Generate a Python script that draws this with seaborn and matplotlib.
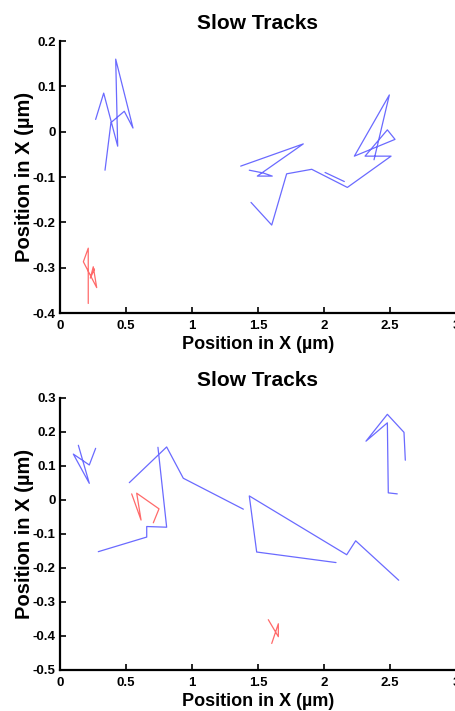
import matplotlib
matplotlib.use("Agg")
import matplotlib.pyplot as plt
import seaborn as sns
import pandas as pd

# ---- data: panel 1 tracks ----
p1_blue_a_x = [0.270, 0.331, 0.437, 0.422, 0.553, 0.487, 0.386, 0.341]
p1_blue_a_y = [0.027, 0.085, -0.032, 0.160, 0.008, 0.045, 0.020, -0.085]
p1_blue_b_x = [1.447, 1.604, 1.717, 1.907, 2.177, 2.508, 2.311, 2.480, 2.538, 2.230, 2.495, 2.379]
p1_blue_b_y = [-0.156, -0.206, -0.093, -0.083, -0.123, -0.054, -0.054, 0.004, -0.017, -0.054, 0.081, -0.062]
p1_blue_c_x = [2.008, 2.154]
p1_blue_c_y = [-0.090, -0.110]
p1_blue_d_x = [1.369, 1.843, 1.495, 1.608, 1.538, 1.434]
p1_blue_d_y = [-0.076, -0.027, -0.098, -0.098, -0.091, -0.085]
p1_red_a_x = [0.214, 0.214, 0.177, 0.278, 0.252, 0.230, 0.261]
p1_red_a_y = [-0.379, -0.257, -0.287, -0.344, -0.298, -0.323, -0.303]

# ---- data: panel 2 tracks ----
p2_blue_a_x = [0.270, 0.222, 0.101, 0.222, 0.139]
p2_blue_a_y = [0.152, 0.103, 0.135, 0.049, 0.161]
p2_blue_b_x = [0.290, 0.657, 0.657, 0.808, 0.742]
p2_blue_b_y = [-0.152, -0.109, -0.078, -0.080, 0.155]
p2_blue_c_x = [0.525, 0.808, 0.934, 1.389]
p2_blue_c_y = [0.051, 0.156, 0.064, -0.027]
p2_blue_d_x = [2.091, 1.490, 1.434, 2.172, 2.240, 2.566]
p2_blue_d_y = [-0.184, -0.153, 0.012, -0.161, -0.120, -0.236]
p2_blue_e_x = [2.616, 2.606, 2.480, 2.318, 2.480, 2.487, 2.555]
p2_blue_e_y = [0.117, 0.199, 0.252, 0.173, 0.227, 0.021, 0.018]
p2_red_a_x = [0.543, 0.614, 0.581, 0.750, 0.707]
p2_red_a_y = [0.018, -0.059, 0.020, -0.026, -0.067]
p2_red_b_x = [1.578, 1.654, 1.654, 1.604]
p2_red_b_y = [-0.352, -0.402, -0.364, -0.422]

x_ticks = [0, 0.5, 1, 1.5, 2, 2.5, 3]
x_tick_labels = ["0", "0.5", "1", "1.5", "2", "2.5", "3"]
p1_y_ticks = [-0.4, -0.3, -0.2, -0.1, 0, 0.1, 0.2]
p1_y_tick_labels = ["-0.4", "-0.3", "-0.2", "-0.1", "0", "0.1", "0.2"]
p2_y_ticks = [-0.5, -0.4, -0.3, -0.2, -0.1, 0, 0.1, 0.2, 0.3]
p2_y_tick_labels = ["-0.5", "-0.4", "-0.3", "-0.2", "-0.1", "0", "0.1", "0.2", "0.3"]

title_text = "Slow Tracks"
x_label = "Position in X (\u00b5m)"
y_label = "Position in X (\u00b5m)"

BLUE = "#6a6aff"
RED = "#ff6a6a"

sns.set_theme(style="white")
plt.rcParams['font.family'] = ['Liberation Sans', 'DejaVu Sans']
plt.rcParams['text.color'] = 'black'
plt.rcParams['axes.labelcolor'] = 'black'
plt.rcParams['xtick.color'] = 'black'
plt.rcParams['ytick.color'] = 'black'

fig = plt.figure(figsize=(4.56, 7.11), dpi=100)
W, H = 456, 711

def make_ax(top_px, bottom_px):
    left = 60 / W
    width = 396 / W
    bottom = 1 - bottom_px / H
    height = (bottom_px - top_px) / H
    return fig.add_axes([left, bottom, width, height])

ax1 = make_ax(41, 313)
ax2 = make_ax(398, 670)

panels = [
    (ax1, [(p1_blue_a_x, p1_blue_a_y, BLUE), (p1_blue_b_x, p1_blue_b_y, BLUE),
           (p1_blue_c_x, p1_blue_c_y, BLUE), (p1_blue_d_x, p1_blue_d_y, BLUE),
           (p1_red_a_x, p1_red_a_y, RED)],
     (-0.4, 0.2), p1_y_ticks, p1_y_tick_labels),
    (ax2, [(p2_blue_a_x, p2_blue_a_y, BLUE), (p2_blue_b_x, p2_blue_b_y, BLUE),
           (p2_blue_c_x, p2_blue_c_y, BLUE), (p2_blue_d_x, p2_blue_d_y, BLUE),
           (p2_blue_e_x, p2_blue_e_y, BLUE), (p2_red_a_x, p2_red_a_y, RED),
           (p2_red_b_x, p2_red_b_y, RED)],
     (-0.5, 0.3), p2_y_ticks, p2_y_tick_labels),
]

for ax, tracks, ylim, yt, ytl in panels:
    for tx, ty, col in tracks:
        df = pd.DataFrame({"x": tx, "y": ty})
        sns.lineplot(data=df, x="x", y="y", sort=False, estimator=None,
                     color=col, lw=0.9, ax=ax)
    ax.set_xlim(0, 3)
    ax.set_ylim(*ylim)
    ax.set_xticks(x_ticks)
    ax.set_xticklabels(x_tick_labels, fontweight="bold", fontsize=9.5)
    ax.set_yticks(yt)
    ax.set_yticklabels(ytl, fontweight="bold", fontsize=9.5)
    ax.tick_params(axis="x", direction="in", length=4, width=1.2,
                   colors="black", pad=5, bottom=True)
    ax.tick_params(axis="y", direction="in", length=4, width=1.2,
                   colors="black", pad=3, left=True)
    for s in ["top", "right"]:
        ax.spines[s].set_visible(False)
    for s in ["left", "bottom"]:
        ax.spines[s].set_color("black")
        ax.spines[s].set_linewidth(1.6)
    ax.set_title(title_text, fontweight="bold", fontsize=15, pad=9,
                 color="black")
    ax.set_xlabel(x_label, fontweight="bold", fontsize=13, labelpad=3)
    ax.set_ylabel(y_label, fontweight="bold", fontsize=14.5, labelpad=-1)

fig.savefig("out.png", dpi=100)
